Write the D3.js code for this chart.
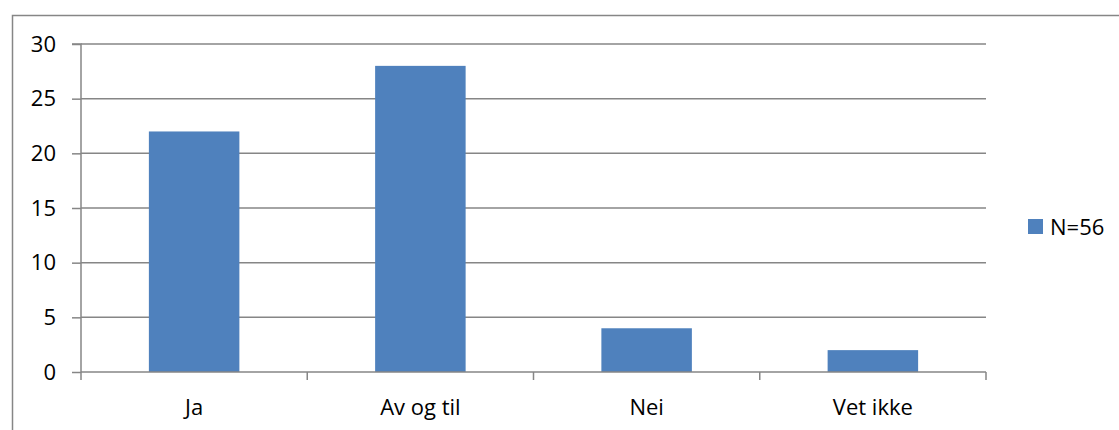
<!DOCTYPE html>
<html>
<head>
<meta charset="utf-8">
<script src="https://cdn.jsdelivr.net/npm/d3@7"></script>
<style>
  html, body { margin: 0; padding: 0; background: #fff; }
  svg text { font-family: "Open Sans", "Noto Sans", sans-serif; fill: #000; }
</style>
</head>
<body>
<svg id="chart" width="1119" height="430"></svg>
<script>
// Survey answers, count of respondents per answer
const categories = ["Ja", "Av og til", "Nei", "Vet ikke"];
const counts = [22, 28, 4, 2];
const yTicks = [0, 5, 10, 15, 20, 25, 30];
const seriesName = "N=56";

const svg = d3.select("#chart");
const W = 1119, H = 430;
const plot = { left: 81, right: 986, top: 44, bottom: 372 };
const grid = "#868686";
const barColor = "#4f81bd";
const fontSize = "22px";

// outer frame of the chart area
svg.append("rect")
  .attr("x", 12.5).attr("y", 15.5)
  .attr("width", W + 10).attr("height", H + 10)
  .attr("fill", "none").attr("stroke", grid).attr("stroke-width", 1.5);

const x = d3.scaleBand().domain(categories).range([plot.left, plot.right]).paddingInner(0.6).paddingOuter(0.3);
const xOuter = d3.scaleBand().domain(categories).range([plot.left, plot.right]);
const y = d3.scaleLinear().domain([0, 30]).range([plot.bottom, plot.top]);

// horizontal gridlines
svg.append("g").selectAll("line").data(yTicks.filter(d => d > 0)).join("line")
  .attr("x1", plot.left).attr("x2", plot.right)
  .attr("y1", d => y(d)).attr("y2", d => y(d))
  .attr("stroke", grid).attr("stroke-width", 1.5);

// y axis
const yAxis = d3.axisLeft(y).tickValues(yTicks).tickSize(9).tickPadding(16);
const gy = svg.append("g").attr("transform", `translate(${plot.left},0)`).call(yAxis);
gy.select(".domain").attr("stroke", grid).attr("stroke-width", 1.5).attr("d", `M-9,${plot.top}H0V${plot.bottom}`);
gy.selectAll(".tick line").attr("stroke", grid).attr("stroke-width", 1.5);
gy.selectAll(".tick text").style("font-size", fontSize).attr("fill", "#000");

// bars
svg.append("g").selectAll("rect").data(categories).join("rect")
  .attr("x", d => x(d))
  .attr("width", x.bandwidth())
  .attr("y", (d, i) => y(counts[i]))
  .attr("height", (d, i) => y(0) - y(counts[i]))
  .attr("fill", barColor);

// x axis with ticks between categories
const gx = svg.append("g").attr("transform", `translate(0,${plot.bottom})`);
gx.append("line").attr("x1", plot.left).attr("x2", plot.right)
  .attr("stroke", grid).attr("stroke-width", 1.5);
const boundaries = categories.map(c => xOuter(c)).concat([plot.right]);
gx.selectAll("line.tk").data(boundaries).join("line").attr("class", "tk")
  .attr("x1", d => d).attr("x2", d => d).attr("y1", 0).attr("y2", 8)
  .attr("stroke", grid).attr("stroke-width", 1.5);
gx.selectAll("text").data(categories).join("text")
  .attr("x", d => xOuter(d) + xOuter.bandwidth() / 2)
  .attr("y", 43)
  .attr("text-anchor", "middle")
  .style("font-size", fontSize)
  .text(d => d);

// legend
const lg = svg.append("g").attr("transform", "translate(1028,219)");
lg.append("rect").attr("width", 15).attr("height", 15).attr("fill", barColor);
lg.append("text").attr("x", 22).attr("y", 16).style("font-size", fontSize).text(seriesName);
</script>
</body>
</html>
